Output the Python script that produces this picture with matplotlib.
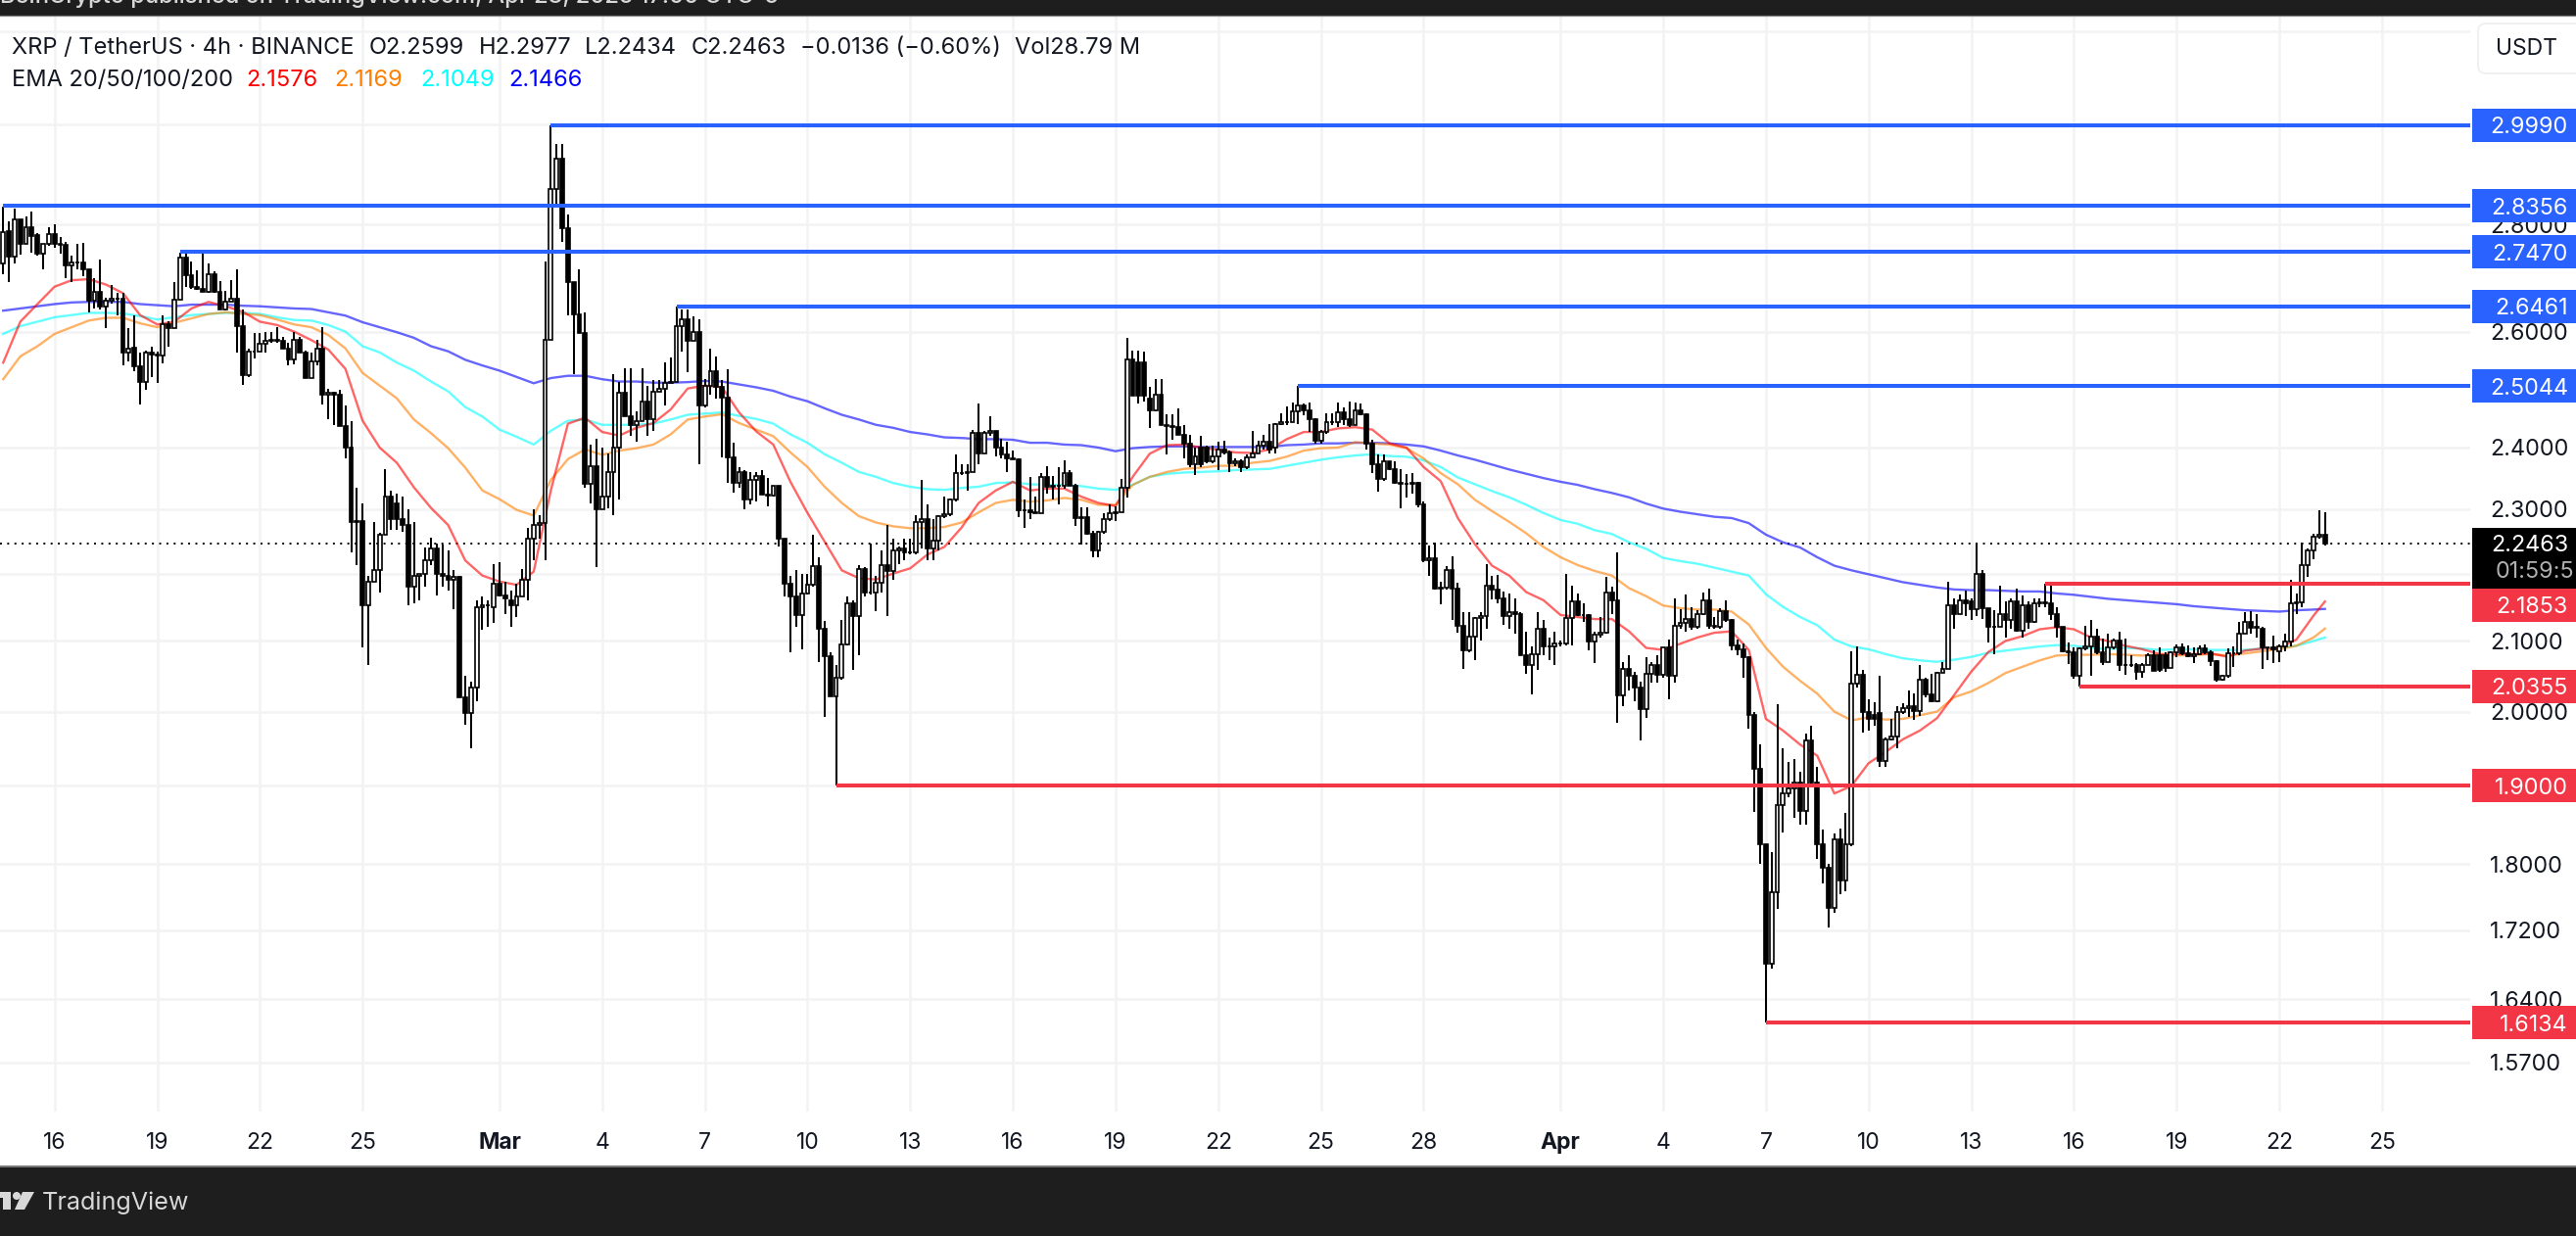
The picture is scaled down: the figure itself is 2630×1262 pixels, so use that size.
import numpy as np
import matplotlib
matplotlib.use("Agg")
import matplotlib.pyplot as plt
from matplotlib.patches import Rectangle, FancyBboxPatch, Polygon, Circle
from matplotlib.ticker import NullLocator, FixedLocator, FixedFormatter

W, H = 2630, 1262
first_index = -9

opens = [
2.725,2.786,2.738,2.81,2.762,2.795,2.78,2.744,2.762,
2.782,2.762,2.76,2.722,2.728,2.728,2.714,2.656,2.672,2.646,2.656,2.66,2.66,2.563,2.571,2.539,2.512,2.563,
2.56,2.558,2.613,2.606,2.658,2.737,2.704,2.682,2.678,2.672,2.706,2.672,2.64,2.655,2.66,2.61,2.523,2.565,
2.565,2.578,2.584,2.585,2.584,2.57,2.55,2.585,2.562,2.518,2.548,2.57,2.49,2.492,2.49,2.436,2.40,2.279,
2.282,2.153,2.188,2.205,2.26,2.32,2.31,2.285,2.275,2.18,2.197,2.2,2.22,2.238,2.2,2.197,2.19,2.195,
2.02,1.998,2.033,2.15,2.152,2.15,2.185,2.167,2.16,2.152,2.166,2.19,2.254,2.275,2.278,2.585,2.87,2.93,
2.792,2.69,2.632,2.597,2.34,2.37,2.30,2.32,2.36,2.40,2.493,2.452,2.438,2.444,
2.478,2.447,2.494,2.5,2.51,2.512,2.61,2.622,2.584,2.6,2.47,2.505,2.53,2.503,2.484,2.384,2.342,2.36,
2.315,2.347,2.353,2.323,2.322,2.337,2.254,2.184,2.165,2.138,2.17,2.183,2.212,2.118,2.078,2.021,2.047,2.095,
2.155,2.136,2.207,2.171,2.172,2.186,2.213,2.204,2.236,2.238,2.233,2.232,2.28,2.285,2.238,2.25,2.289,2.292,
2.315,2.358,2.358,2.36,2.424,2.391,2.424,2.427,2.4,2.388,2.382,2.38,2.298,2.299,2.296,2.293,2.352,2.336,
2.337,2.338,2.358,2.337,2.286,2.287,2.262,2.236,2.264,2.284,2.293,2.295,2.335,2.551,2.545,2.545,2.482,2.463,
2.49,2.437,2.436,2.435,2.422,2.406,2.372,2.4,2.4,2.378,2.385,2.397,2.392,2.374,2.378,2.367,2.384,2.39,2.404,2.41,
2.40,2.439,2.442,2.443,2.461,2.471,2.463,2.448,2.411,2.426,2.443,2.443,2.459,2.447,2.437,2.462,2.455,2.407,2.372,2.348,
2.377,2.365,2.342,2.341,2.34,2.342,2.308,2.22,2.223,2.178,2.179,2.205,2.177,2.122,2.087,2.106,2.133,2.136,2.182,2.176,
2.163,2.136,2.142,2.139,2.08,2.065,2.081,2.118,2.092,2.092,2.096,2.096,2.134,2.158,2.138,2.138,2.099,2.109,2.112,2.172,
2.16,2.022,2.06,2.05,2.034,2.004,2.053,2.065,2.052,2.09,2.05,2.122,2.126,2.132,2.12,2.14,2.16,2.122,2.12,2.143,
2.13,2.094,2.088,2.076,1.995,1.922,1.825,1.68,1.765,1.875,1.89,1.897,1.904,1.868,1.96,1.904,1.825,1.795,1.747,1.831,
1.78,1.825,2.039,2.052,2.0,1.995,1.998,1.933,1.962,1.966,2.0,2.005,2.008,2.001,2.045,2.024,2.014,2.054,2.06,2.153,
2.139,2.16,2.158,2.146,2.2,2.148,2.12,2.12,2.139,2.13,2.158,2.115,2.153,2.128,2.156,2.157,2.155,2.14,2.12,2.085,
2.083,2.05,2.089,2.092,2.106,2.084,2.07,2.09,2.101,2.066,2.066,2.066,2.055,2.066,2.08,2.08,2.08,2.061,2.083,2.09,
2.082,2.078,2.081,2.089,2.084,2.071,2.045,2.05,2.082,2.082,2.11,2.128,2.119,2.118,2.09,2.09,2.085,2.092,2.099,2.155,
2.157,2.213,2.235,2.257,2.2599]
highs = [
2.835,2.806,2.83,2.81,2.816,2.824,2.784,2.762,2.794,
2.80,2.776,2.766,2.74,2.762,2.765,2.714,2.698,2.732,2.662,2.686,2.67,2.67,2.607,2.63,2.563,2.567,2.573,
2.565,2.63,2.618,2.69,2.746,2.746,2.73,2.712,2.746,2.726,2.71,2.692,2.675,2.694,2.714,2.64,2.57,2.597,
2.597,2.6,2.6,2.608,2.59,2.58,2.6,2.59,2.566,2.563,2.585,2.608,2.5,2.495,2.498,2.47,2.445,2.335,
2.31,2.196,2.28,2.263,2.365,2.33,2.325,2.32,2.30,2.28,2.2,2.24,2.255,2.246,2.245,2.235,2.205,2.197,
2.05,2.042,2.16,2.165,2.16,2.215,2.217,2.188,2.175,2.185,2.207,2.27,2.3,2.29,2.73,2.999,2.96,2.96,
2.82,2.69,2.714,2.635,2.405,2.415,2.40,2.39,2.525,2.512,2.535,2.535,2.46,2.535,
2.505,2.515,2.514,2.546,2.554,2.646,2.64,2.64,2.627,2.622,2.517,2.57,2.555,2.514,2.533,2.408,2.368,2.363,
2.36,2.36,2.363,2.35,2.338,2.338,2.254,2.196,2.205,2.2,2.2,2.26,2.225,2.129,2.084,2.065,2.131,2.165,
2.16,2.213,2.21,2.246,2.196,2.236,2.275,2.254,2.241,2.254,2.254,2.29,2.347,2.307,2.285,2.29,2.32,2.317,
2.388,2.373,2.373,2.43,2.475,2.428,2.452,2.428,2.414,2.409,2.395,2.383,2.315,2.352,2.32,2.358,2.37,2.353,
2.367,2.379,2.363,2.34,2.303,2.303,2.266,2.266,2.293,2.307,2.304,2.348,2.588,2.566,2.566,2.564,2.503,2.517,
2.517,2.456,2.455,2.466,2.437,2.422,2.4,2.42,2.403,2.403,2.41,2.412,2.395,2.383,2.38,2.388,2.428,2.412,2.422,2.44,
2.441,2.457,2.469,2.476,2.5044,2.475,2.476,2.45,2.429,2.457,2.457,2.476,2.468,2.478,2.476,2.474,2.457,2.413,2.388,2.389,
2.378,2.377,2.365,2.357,2.358,2.344,2.312,2.243,2.248,2.187,2.212,2.226,2.186,2.142,2.142,2.135,2.142,2.214,2.197,2.198,
2.173,2.17,2.162,2.142,2.113,2.092,2.142,2.13,2.105,2.114,2.1,2.2,2.182,2.17,2.155,2.14,2.114,2.135,2.195,2.18,
2.232,2.07,2.08,2.055,2.042,2.076,2.07,2.08,2.09,2.102,2.163,2.147,2.168,2.15,2.145,2.172,2.177,2.135,2.148,2.16,
2.132,2.102,2.097,2.078,2.0,1.955,1.825,1.815,2.01,1.95,1.932,1.935,1.918,1.97,1.98,1.925,1.843,1.8,1.839,1.845,
1.865,2.085,2.092,2.058,2.017,2.013,2.05,1.965,1.99,2.007,2.012,2.03,2.025,2.066,2.047,2.053,2.055,2.07,2.187,2.163,
2.169,2.175,2.163,2.247,2.205,2.148,2.145,2.181,2.158,2.162,2.177,2.167,2.158,2.162,2.162,2.1853,2.183,2.149,2.121,2.098,
2.09,2.091,2.122,2.13,2.118,2.103,2.11,2.104,2.114,2.103,2.08,2.068,2.068,2.082,2.087,2.09,2.083,2.085,2.095,2.096,
2.094,2.09,2.094,2.095,2.087,2.072,2.052,2.089,2.092,2.128,2.142,2.143,2.14,2.12,2.09,2.108,2.095,2.11,2.19,2.17,
2.248,2.238,2.262,2.2977,2.295]
lows = [
2.705,2.69,2.726,2.742,2.762,2.746,2.74,2.714,2.758,
2.755,2.744,2.698,2.69,2.714,2.702,2.634,2.642,2.64,2.606,2.65,2.63,2.54,2.548,2.53,2.472,2.497,2.52,
2.51,2.544,2.573,2.606,2.658,2.682,2.678,2.676,2.672,2.67,2.67,2.64,2.638,2.655,2.563,2.506,2.52,2.552,
2.565,2.563,2.58,2.58,2.57,2.541,2.542,2.562,2.518,2.518,2.541,2.472,2.447,2.438,2.436,2.382,2.232,2.213,
2.09,2.065,2.188,2.172,2.26,2.268,2.268,2.265,2.153,2.156,2.16,2.18,2.213,2.167,2.18,2.175,2.147,2.02,
1.982,1.95,2.015,2.117,2.12,2.127,2.165,2.14,2.12,2.135,2.166,2.16,2.22,2.254,2.22,2.585,2.835,2.766,
2.63,2.525,2.597,2.335,2.31,2.21,2.30,2.302,2.29,2.315,2.452,2.42,2.41,2.444,
2.42,2.428,2.497,2.47,2.509,2.512,2.565,2.528,2.584,2.373,2.467,2.49,2.483,2.384,2.343,2.327,2.335,2.30,
2.307,2.312,2.323,2.304,2.32,2.242,2.165,2.084,2.12,2.088,2.168,2.18,2.07,1.993,2.021,1.90,2.045,2.093,
2.059,2.08,2.165,2.168,2.144,2.172,2.136,2.19,2.214,2.22,2.23,2.23,2.238,2.22,2.22,2.236,2.286,2.289,
2.312,2.355,2.33,2.36,2.372,2.39,2.42,2.385,2.383,2.36,2.38,2.287,2.27,2.285,2.293,2.293,2.325,2.315,
2.307,2.333,2.337,2.274,2.244,2.26,2.225,2.225,2.262,2.282,2.282,2.295,2.318,2.487,2.475,2.478,2.432,2.46,
2.437,2.389,2.413,2.422,2.383,2.368,2.355,2.368,2.374,2.374,2.363,2.389,2.359,2.37,2.359,2.364,2.384,2.39,2.397,2.39,
2.39,2.438,2.438,2.443,2.44,2.454,2.426,2.407,2.407,2.423,2.437,2.434,2.438,2.435,2.437,2.454,2.397,2.358,2.328,2.346,
2.363,2.34,2.302,2.318,2.325,2.303,2.217,2.196,2.176,2.154,2.176,2.13,2.112,2.06,2.084,2.072,2.1,2.118,2.161,2.155,
2.124,2.118,2.11,2.08,2.053,2.024,2.059,2.08,2.072,2.065,2.092,2.094,2.094,2.136,2.128,2.087,2.068,2.105,2.11,2.139,
1.985,2.008,2.03,2.014,1.96,1.992,2.04,2.04,2.047,2.017,2.04,2.118,2.114,2.116,2.118,2.138,2.118,2.118,2.118,2.128,
2.086,2.08,2.047,1.976,1.866,1.801,1.6134,1.675,1.745,1.84,1.885,1.858,1.85,1.85,1.9,1.806,1.776,1.7225,1.74,1.763,
1.767,1.822,2.034,1.971,1.974,1.98,1.925,1.925,1.96,1.95,1.997,1.993,1.988,1.994,2.02,2.013,2.013,2.054,2.06,2.118,
2.139,2.137,2.13,2.137,2.132,2.098,2.081,2.12,2.105,2.118,2.113,2.105,2.118,2.127,2.149,2.149,2.131,2.105,2.084,2.067,
2.046,2.0355,2.087,2.05,2.081,2.065,2.069,2.088,2.057,2.052,2.063,2.045,2.048,2.066,2.057,2.055,2.056,2.061,2.077,2.08,
2.077,2.068,2.081,2.081,2.064,2.042,2.043,2.048,2.063,2.08,2.11,2.11,2.105,2.06,2.073,2.068,2.07,2.085,2.092,2.14,
2.15,2.195,2.222,2.254,2.2434]
closes = [
2.785,2.738,2.81,2.762,2.795,2.778,2.744,2.762,2.782,
2.762,2.76,2.722,2.728,2.728,2.714,2.656,2.672,2.646,2.656,2.66,2.66,2.563,2.57,2.539,2.512,2.563,2.56,
2.558,2.613,2.606,2.658,2.737,2.704,2.682,2.678,2.672,2.706,2.672,2.64,2.655,2.66,2.61,2.523,2.565,2.565,
2.578,2.584,2.585,2.584,2.57,2.55,2.585,2.562,2.518,2.548,2.57,2.49,2.492,2.49,2.436,2.40,2.279,2.282,
2.153,2.188,2.205,2.26,2.32,2.285,2.285,2.275,2.18,2.197,2.2,2.22,2.238,2.2,2.197,2.19,2.195,2.02,
1.998,2.033,2.15,2.152,2.153,2.185,2.167,2.163,2.152,2.166,2.19,2.254,2.275,2.278,2.585,2.87,2.93,2.792,
2.69,2.632,2.597,2.34,2.37,2.30,2.32,2.36,2.40,2.493,2.452,2.438,2.445,2.478,
2.447,2.494,2.5,2.51,2.512,2.61,2.622,2.584,2.6,2.47,2.505,2.53,2.503,2.484,2.384,2.342,2.36,2.315,
2.347,2.353,2.323,2.322,2.337,2.254,2.184,2.165,2.138,2.17,2.183,2.212,2.118,2.078,2.021,2.047,2.095,2.155,
2.136,2.207,2.171,2.172,2.186,2.213,2.204,2.236,2.238,2.233,2.232,2.28,2.285,2.238,2.25,2.289,2.292,2.315,
2.358,2.358,2.36,2.424,2.391,2.424,2.427,2.4,2.388,2.382,2.38,2.298,2.299,2.296,2.293,2.352,2.336,2.337,
2.338,2.358,2.337,2.286,2.287,2.262,2.236,2.264,2.284,2.293,2.295,2.335,2.551,2.487,2.488,2.488,2.463,2.49,
2.437,2.436,2.435,2.422,2.406,2.372,2.386,2.372,2.378,2.385,2.397,2.392,2.374,2.378,2.367,2.384,2.39,2.404,2.41,2.397,
2.439,2.442,2.443,2.461,2.471,2.463,2.448,2.411,2.426,2.443,2.443,2.459,2.447,2.437,2.462,2.455,2.407,2.372,2.348,2.377,
2.365,2.342,2.341,2.34,2.342,2.308,2.22,2.223,2.178,2.179,2.205,2.177,2.122,2.087,2.106,2.133,2.136,2.182,2.176,2.163,
2.136,2.142,2.139,2.08,2.065,2.081,2.118,2.092,2.092,2.096,2.096,2.134,2.158,2.138,2.138,2.099,2.109,2.112,2.172,2.16,
2.022,2.06,2.05,2.034,2.004,2.053,2.065,2.052,2.09,2.05,2.122,2.126,2.132,2.12,2.14,2.16,2.122,2.12,2.143,2.13,
2.094,2.088,2.076,1.995,1.922,1.825,1.68,1.765,1.875,1.89,1.897,1.904,1.868,1.96,1.905,1.825,1.795,1.747,1.831,1.78,
1.825,2.039,2.052,2.0,1.99,1.99,1.933,1.962,1.966,2.0,2.005,2.008,2.001,2.045,2.024,2.014,2.054,2.06,2.153,2.139,
2.16,2.156,2.146,2.2,2.148,2.12,2.12,2.139,2.13,2.158,2.115,2.153,2.128,2.156,2.157,2.155,2.14,2.12,2.085,2.083,
2.05,2.089,2.092,2.106,2.084,2.07,2.09,2.101,2.066,2.066,2.066,2.055,2.066,2.08,2.057,2.059,2.061,2.083,2.09,2.082,
2.078,2.081,2.089,2.084,2.071,2.045,2.05,2.082,2.082,2.11,2.128,2.119,2.12,2.09,2.09,2.088,2.092,2.099,2.155,2.157,
2.213,2.235,2.257,2.2599,2.2463]

ema_idx = list(range(-9, 397, 3)) + [398]
ema200 = [2.638,2.642,2.646,2.65,2.653,2.654,2.654,2.654,2.65,2.648,2.646,2.649,2.649,2.649,2.647,2.646,2.644,2.642,2.641,
2.635,2.629,2.617,2.608,2.599,2.589,2.574,2.565,2.55,2.54,2.531,2.52,2.509,2.518,2.522,2.522,2.516,2.512,2.512,
2.51,2.51,2.511,2.513,2.512,2.507,2.502,2.496,2.486,2.478,2.466,2.455,2.447,2.438,2.433,2.426,2.422,2.417,2.416,
2.414,2.414,2.413,2.408,2.408,2.405,2.404,2.4,2.394,2.399,2.401,2.402,2.402,2.401,2.401,2.401,2.401,2.401,
2.404,2.405,2.407,2.407,2.408,2.408,2.407,2.405,2.402,2.395,2.387,2.38,2.372,2.364,2.357,2.35,2.344,2.339,2.332,
2.326,2.319,2.309,2.301,2.296,2.292,2.288,2.286,2.278,2.26,2.248,2.24,2.225,2.212,2.205,2.199,2.193,2.187,2.183,
2.179,2.176,2.175,2.175,2.174,2.173,2.173,2.17,2.168,2.165,2.162,2.16,2.158,2.156,2.154,2.151,2.149,2.147,2.145,
2.144,2.143,2.145,2.146,2.147]
ema100 = [2.596,2.61,2.618,2.626,2.63,2.634,2.634,2.633,2.628,2.622,2.626,2.63,2.632,2.634,2.634,2.632,2.626,2.621,2.62,
2.612,2.6,2.574,2.563,2.545,2.531,2.512,2.495,2.468,2.452,2.43,2.418,2.405,2.428,2.445,2.447,2.438,2.438,2.438,
2.44,2.447,2.455,2.457,2.459,2.453,2.448,2.44,2.422,2.408,2.389,2.375,2.36,2.352,2.342,2.336,2.332,2.331,2.334,
2.336,2.342,2.343,2.34,2.339,2.339,2.337,2.333,2.331,2.339,2.352,2.357,2.359,2.36,2.361,2.363,2.364,2.365,
2.37,2.375,2.38,2.384,2.387,2.389,2.386,2.385,2.379,2.368,2.351,2.34,2.329,2.319,2.307,2.294,2.283,2.277,2.267,
2.261,2.248,2.238,2.224,2.219,2.215,2.209,2.203,2.197,2.169,2.15,2.135,2.123,2.102,2.092,2.088,2.081,2.075,2.072,
2.07,2.073,2.077,2.083,2.086,2.089,2.092,2.094,2.093,2.09,2.088,2.09,2.089,2.087,2.088,2.088,2.087,2.087,2.087,
2.089,2.09,2.093,2.1,2.105]
ema50 = [2.516,2.556,2.574,2.596,2.608,2.62,2.625,2.625,2.615,2.608,2.616,2.624,2.632,2.635,2.632,2.63,2.622,2.613,2.608,
2.594,2.57,2.527,2.505,2.483,2.447,2.424,2.399,2.367,2.33,2.316,2.299,2.29,2.347,2.381,2.397,2.388,2.395,2.399,
2.405,2.422,2.447,2.452,2.456,2.441,2.43,2.419,2.392,2.368,2.336,2.31,2.289,2.279,2.273,2.27,2.27,2.272,2.279,
2.295,2.31,2.315,2.312,2.314,2.318,2.315,2.307,2.307,2.339,2.352,2.36,2.365,2.367,2.37,2.37,2.375,2.378,
2.385,2.395,2.399,2.4,2.409,2.407,2.405,2.399,2.382,2.358,2.34,2.315,2.297,2.28,2.262,2.241,2.225,2.213,2.204,
2.197,2.178,2.166,2.152,2.148,2.146,2.146,2.143,2.124,2.09,2.063,2.043,2.025,2.0,1.988,1.992,1.989,1.99,1.995,
2.0,2.02,2.028,2.04,2.054,2.063,2.072,2.079,2.08,2.08,2.081,2.08,2.079,2.08,2.079,2.08,2.081,2.079,2.082,
2.085,2.088,2.093,2.105,2.118]
ema20 = [2.545,2.618,2.65,2.682,2.694,2.696,2.686,2.67,2.63,2.613,2.618,2.642,2.654,2.646,2.636,2.618,2.612,2.6,2.585,
2.568,2.534,2.445,2.4,2.375,2.335,2.302,2.275,2.22,2.197,2.188,2.183,2.203,2.33,2.44,2.45,2.426,2.42,2.433,
2.441,2.464,2.5,2.505,2.502,2.459,2.427,2.405,2.344,2.294,2.249,2.205,2.193,2.191,2.2,2.208,2.229,2.241,2.271,
2.31,2.33,2.344,2.33,2.333,2.333,2.32,2.31,2.305,2.352,2.39,2.404,2.405,2.4,2.396,2.392,2.391,2.397,
2.414,2.426,2.426,2.432,2.434,2.43,2.407,2.4,2.368,2.345,2.286,2.245,2.212,2.197,2.172,2.16,2.138,2.135,2.132,
2.132,2.114,2.09,2.087,2.096,2.105,2.112,2.114,2.087,1.99,1.974,1.955,1.94,1.89,1.9,1.93,1.945,1.962,1.974,
1.991,2.023,2.056,2.084,2.1,2.107,2.117,2.12,2.117,2.105,2.1,2.093,2.088,2.081,2.081,2.081,2.082,2.077,2.086,
2.089,2.09,2.102,2.137,2.158]

price_ticks = [3.2, 3.0, 2.8, 2.6, 2.4, 2.3, 2.2, 2.1, 2.0, 1.9, 1.8, 1.72, 1.64, 1.57]
hidden_price_labels = [3.2]
date_idx = [0, 18, 36, 54, 78, 96, 114, 132, 150, 168, 186, 204, 222, 240, 264, 282, 300, 318, 336, 354, 372, 390, 408]
date_labels = ["16","19","22","25","Mar","4","7","10","13","16","19","22","25","28","Apr","4","7","10","13","16","19","22","25"]
bold_labels = ["Mar", "Apr"]

level_prices = [2.9990, 2.8356, 2.7470, 2.6461, 2.5044, 2.1853, 2.0355, 1.9000, 1.6134]
level_starts = [87, -9, 22, 109, 218, 349, 355, 137, 300]
level_blue = [True, True, True, True, True, False, False, False, False]
tag_shift = [0, 0, 0, 0, 0, 22, 0, 0, 0]
last_price = 2.2463
header_items = ["XRP / TetherUS · 4h · BINANCE", "O2.2599", "H2.2977", "L2.2434", "C2.2463", "−0.0136 (−0.60%)", "Vol28.79 M"]
ema_legend = ["EMA 20/50/100/200", "2.1576", "2.1169", "2.1049", "2.1466"]

BLUE, RED, DARK, TXT, GRID = "#2962FF", "#F23645", "#1E1E1E", "#131722", "#F2F3F4"
plt.rcParams['font.family'] = ['Inter', 'DejaVu Sans']
fig = plt.figure(figsize=(W/100, H/100), dpi=100, facecolor="white")
AL, AR, AT, AB = 0, 2522, 16, 1135
ax = fig.add_axes([AL/W, 1-AB/H, (AR-AL)/W, (AB-AT)/H], facecolor="white")
ax.set_yscale("log")
ax.set_xlim(-9.56, 423.47)
ax.set_ylim(1.5173, 3.234)
for s in ax.spines.values():
    s.set_visible(False)

ax.yaxis.set_major_locator(FixedLocator(price_ticks))
ax.yaxis.set_major_formatter(FixedFormatter(["" if t in hidden_price_labels else f"{t:.4f}" for t in price_ticks]))
ax.yaxis.set_minor_locator(NullLocator())
ax.yaxis.tick_right()
ax.tick_params(axis="y", length=0, pad=14.5, labelsize=16.8, labelcolor=TXT)
ax.set_xticks(date_idx)
ax.set_xticklabels(date_labels)
ax.tick_params(axis="x", length=0, pad=15, labelsize=16.5, labelcolor=TXT)
for lb in ax.get_xticklabels():
    if lb.get_text() in bold_labels:
        lb.set_fontweight("bold")
ax.grid(True, color=GRID, lw=1.8, zorder=0)
ax.set_axisbelow(True)

ax.axhline(last_price, color="black", lw=1.4, ls=(0, (1, 2.8)), zorder=1.5)

ax.plot(ema_idx, ema200, color="#0000FF", alpha=0.6, lw=1.7, zorder=2)
ax.plot(ema_idx, ema100, color="#00FFFF", alpha=0.6, lw=1.7, zorder=2)
ax.plot(ema_idx, ema50, color="#FF7F00", alpha=0.6, lw=1.7, zorder=2)
ax.plot(ema_idx, ema20, color="#FF0000", alpha=0.6, lw=1.7, zorder=2)

o, h, l, c = map(np.array, (opens, highs, lows, closes))
x = np.arange(len(o)) + first_index
hi = np.maximum.reduce([h, o, c])
lo = np.minimum.reduce([l, o, c])
ax.vlines(x, lo, hi, color="black", lw=1.45, zorder=3)
up = c >= o
body_lo = np.minimum(o, c)
body_h = np.abs(c - o)
ax.bar(x[up], body_h[up], bottom=body_lo[up], width=0.66, facecolor="white", edgecolor="black", lw=1.2, zorder=3.1)
ax.bar(x[~up], body_h[~up], bottom=body_lo[~up], width=0.66, facecolor="black", edgecolor="black", lw=1.2, zorder=3.1)

for p, s, b in zip(level_prices, level_starts, level_blue):
    ax.plot([s, 423.47], [p, p], color=BLUE if b else RED, lw=2.9, solid_capstyle="butt", zorder=4)

ov = fig.add_axes([0, 0, 1, 1], facecolor="none", zorder=10)
ov.set_xlim(0, W); ov.set_ylim(H, 0); ov.axis("off")

fig.canvas.draw()
def ypx(p):
    return H - ax.transData.transform((0, p))[1]

yy = ypx(last_price)
ov.add_patch(Rectangle((2524, yy-16), 106, 62, fc="black", ec="none", zorder=1.5))
ov.text(2622, yy, f"{last_price:.4f}", color="white", ha="right", va="center_baseline", fontsize=16.8, zorder=3)
ov.text(2628, yy+27, "01:59:5", color="#B0B0B0", ha="right", va="center_baseline", fontsize=16.8, zorder=3)
for p, b, sh in zip(level_prices, level_blue, tag_shift):
    yy = ypx(p) + sh
    ov.add_patch(Rectangle((2524, yy-17), 106, 34, fc=BLUE if b else RED, ec="none", zorder=2))
    ov.text(2622, yy, f"{p:.4f}", color="white", ha="right", va="center_baseline", fontsize=16.8, zorder=3)

ov.add_patch(Rectangle((0, 0), W, 16, fc=DARK, ec="none", zorder=2))
ov.plot([0, W], [16, 16], color="#8C8C8C", lw=0.9, zorder=2.5)
ov.text(0, 3.5, "BeInCrypto published on TradingView.com, Apr 23, 2025 17:00 UTC-5", color="#D8D8D8",
        fontsize=17, fontweight="medium", ha="left", va="baseline", zorder=3)
ov.add_patch(Rectangle((0, 1190), W, 72, fc=DARK, ec="none", zorder=2))
ov.plot([0, W], [1190.5, 1190.5], color="#8C8C8C", lw=1.2, zorder=3)
ov.text(43, 1228, "TradingView", color="#D8D8D8", fontsize=18.1, ha="left", va="center", zorder=3)
ov.add_patch(Polygon([(0, 1217), (11, 1217), (11, 1235), (3, 1235), (3, 1223), (0, 1223)], fc="#D8D8D8", ec="none", zorder=3))
ov.add_patch(Circle((17, 1221), 4, fc="#D8D8D8", ec="none", zorder=3))
ov.add_patch(Polygon([(23, 1217), (35, 1217), (25, 1235), (15, 1235)], fc="#D8D8D8", ec="none", zorder=3))

ov.add_patch(FancyBboxPatch((2530, 24), 120, 51, boxstyle="round,pad=0,rounding_size=8", fc="white", ec="#EEEEEE", lw=1.2, zorder=2))
ov.text(2580, 50, "USDT", color=TXT, fontsize=16.5, ha="center", va="center", zorder=3)

header_x = [12, 377, 489, 597, 706, 817, 1036]
for t, hx in zip(header_items, header_x):
    ov.text(hx, 49, t, color=TXT, fontsize=17, ha="left", va="center", zorder=3)
legend_x = [12, 251, 341, 429, 519]
legend_c = [TXT, "#FF0000", "#FF7F00", "#00FFFF", "#0000FF"]
for t, lx, col in zip(ema_legend, legend_x, legend_c):
    ov.text(lx, 82, t, color=col, fontsize=17, ha="left", va="center", zorder=3)

fig.savefig("out.png", dpi=100, facecolor="white")
